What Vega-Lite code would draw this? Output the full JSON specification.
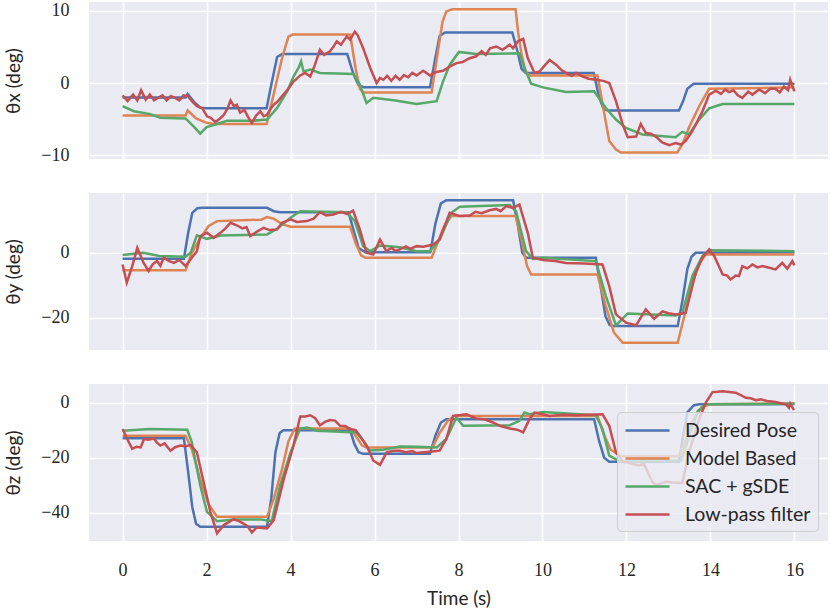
{
"$schema": "https://vega.github.io/schema/vega-lite/v6.json",
"padding": {"left": 4, "top": 1, "right": 2, "bottom": 2},
"datasets": {
"d": [
{"p":1,"s":"Desired Pose","t":0,"v":-2},{"p":1,"s":"Desired Pose","t":1.5,"v":-2},{"p":1,"s":"Desired Pose","t":1.55,"v":-1.5},{"p":1,"s":"Desired Pose","t":1.7,"v":-2.6},{"p":1,"s":"Desired Pose","t":1.85,"v":-3.4},{"p":1,"s":"Desired Pose","t":2.0,"v":-3.5},{"p":1,"s":"Desired Pose","t":3.43,"v":-3.5},{"p":1,"s":"Desired Pose","t":3.55,"v":0},{"p":1,"s":"Desired Pose","t":3.68,"v":3.6},{"p":1,"s":"Desired Pose","t":3.8,"v":4.0},{"p":1,"s":"Desired Pose","t":5.35,"v":4.0},{"p":1,"s":"Desired Pose","t":5.5,"v":1.2},{"p":1,"s":"Desired Pose","t":5.62,"v":-0.3},{"p":1,"s":"Desired Pose","t":5.75,"v":-0.6},{"p":1,"s":"Desired Pose","t":7.32,"v":-0.6},{"p":1,"s":"Desired Pose","t":7.45,"v":3.5},{"p":1,"s":"Desired Pose","t":7.55,"v":6.5},{"p":1,"s":"Desired Pose","t":7.68,"v":7.0},{"p":1,"s":"Desired Pose","t":9.28,"v":7.0},{"p":1,"s":"Desired Pose","t":9.4,"v":4.5},{"p":1,"s":"Desired Pose","t":9.5,"v":2.0},{"p":1,"s":"Desired Pose","t":9.6,"v":1.4},{"p":1,"s":"Desired Pose","t":11.22,"v":1.4},{"p":1,"s":"Desired Pose","t":11.35,"v":-2.0},{"p":1,"s":"Desired Pose","t":11.45,"v":-3.5},{"p":1,"s":"Desired Pose","t":11.55,"v":-3.8},{"p":1,"s":"Desired Pose","t":13.25,"v":-3.8},{"p":1,"s":"Desired Pose","t":13.35,"v":-2.5},{"p":1,"s":"Desired Pose","t":13.45,"v":-0.8},{"p":1,"s":"Desired Pose","t":13.6,"v":-0.1},{"p":1,"s":"Desired Pose","t":16,"v":-0.1},
{"p":1,"s":"Model Based","t":0,"v":-4.5},{"p":1,"s":"Model Based","t":1.5,"v":-4.5},{"p":1,"s":"Model Based","t":1.55,"v":-3.8},{"p":1,"s":"Model Based","t":1.75,"v":-4.9},{"p":1,"s":"Model Based","t":2.0,"v":-5.5},{"p":1,"s":"Model Based","t":2.17,"v":-5.65},{"p":1,"s":"Model Based","t":3.43,"v":-5.65},{"p":1,"s":"Model Based","t":3.6,"v":-1.5},{"p":1,"s":"Model Based","t":3.8,"v":3.5},{"p":1,"s":"Model Based","t":3.95,"v":6.4},{"p":1,"s":"Model Based","t":4.05,"v":6.7},{"p":1,"s":"Model Based","t":5.42,"v":6.7},{"p":1,"s":"Model Based","t":5.55,"v":2.0},{"p":1,"s":"Model Based","t":5.65,"v":-0.8},{"p":1,"s":"Model Based","t":5.73,"v":-1.3},{"p":1,"s":"Model Based","t":7.36,"v":-1.3},{"p":1,"s":"Model Based","t":7.5,"v":4},{"p":1,"s":"Model Based","t":7.62,"v":8.5},{"p":1,"s":"Model Based","t":7.71,"v":9.9},{"p":1,"s":"Model Based","t":7.85,"v":10.2},{"p":1,"s":"Model Based","t":9.36,"v":10.2},{"p":1,"s":"Model Based","t":9.42,"v":7},{"p":1,"s":"Model Based","t":9.5,"v":4},{"p":1,"s":"Model Based","t":9.6,"v":1.5},{"p":1,"s":"Model Based","t":9.69,"v":1.05},{"p":1,"s":"Model Based","t":11.31,"v":1.05},{"p":1,"s":"Model Based","t":11.45,"v":-3.5},{"p":1,"s":"Model Based","t":11.59,"v":-8.0},{"p":1,"s":"Model Based","t":11.75,"v":-9.2},{"p":1,"s":"Model Based","t":11.87,"v":-9.6},{"p":1,"s":"Model Based","t":13.21,"v":-9.6},{"p":1,"s":"Model Based","t":13.33,"v":-8.5},{"p":1,"s":"Model Based","t":13.5,"v":-6},{"p":1,"s":"Model Based","t":13.75,"v":-3},{"p":1,"s":"Model Based","t":13.97,"v":-0.8},{"p":1,"s":"Model Based","t":16,"v":-0.6},
{"p":1,"s":"SAC + gSDE","t":0,"v":-3.2},{"p":1,"s":"SAC + gSDE","t":0.27,"v":-3.9},{"p":1,"s":"SAC + gSDE","t":0.66,"v":-4.3},{"p":1,"s":"SAC + gSDE","t":0.9,"v":-4.8},{"p":1,"s":"SAC + gSDE","t":1.5,"v":-4.9},{"p":1,"s":"SAC + gSDE","t":1.69,"v":-6.0},{"p":1,"s":"SAC + gSDE","t":1.85,"v":-7.0},{"p":1,"s":"SAC + gSDE","t":2.0,"v":-6.1},{"p":1,"s":"SAC + gSDE","t":2.17,"v":-5.8},{"p":1,"s":"SAC + gSDE","t":2.49,"v":-5.2},{"p":1,"s":"SAC + gSDE","t":3.12,"v":-5.2},{"p":1,"s":"SAC + gSDE","t":3.44,"v":-5.05},{"p":1,"s":"SAC + gSDE","t":3.68,"v":-3.45},{"p":1,"s":"SAC + gSDE","t":3.92,"v":-1.15},{"p":1,"s":"SAC + gSDE","t":4.07,"v":0.9},{"p":1,"s":"SAC + gSDE","t":4.2,"v":2.2},{"p":1,"s":"SAC + gSDE","t":4.25,"v":3.0},{"p":1,"s":"SAC + gSDE","t":4.31,"v":1.6},{"p":1,"s":"SAC + gSDE","t":4.47,"v":1.85},{"p":1,"s":"SAC + gSDE","t":4.7,"v":1.4},{"p":1,"s":"SAC + gSDE","t":5.5,"v":1.25},{"p":1,"s":"SAC + gSDE","t":5.65,"v":-0.2},{"p":1,"s":"SAC + gSDE","t":5.81,"v":-2.75},{"p":1,"s":"SAC + gSDE","t":5.97,"v":-2.05},{"p":1,"s":"SAC + gSDE","t":6.5,"v":-2.4},{"p":1,"s":"SAC + gSDE","t":7.0,"v":-2.9},{"p":1,"s":"SAC + gSDE","t":7.48,"v":-2.5},{"p":1,"s":"SAC + gSDE","t":7.63,"v":0.2},{"p":1,"s":"SAC + gSDE","t":7.79,"v":2.5},{"p":1,"s":"SAC + gSDE","t":8.01,"v":4.3},{"p":1,"s":"SAC + gSDE","t":8.42,"v":4.0},{"p":1,"s":"SAC + gSDE","t":9.45,"v":4.1},{"p":1,"s":"SAC + gSDE","t":9.57,"v":2.1},{"p":1,"s":"SAC + gSDE","t":9.73,"v":-0.1},{"p":1,"s":"SAC + gSDE","t":10.01,"v":-0.6},{"p":1,"s":"SAC + gSDE","t":10.56,"v":-1.25},{"p":1,"s":"SAC + gSDE","t":11.23,"v":-1.15},{"p":1,"s":"SAC + gSDE","t":11.51,"v":-3.45},{"p":1,"s":"SAC + gSDE","t":11.75,"v":-5.05},{"p":1,"s":"SAC + gSDE","t":11.99,"v":-6.2},{"p":1,"s":"SAC + gSDE","t":12.38,"v":-7.1},{"p":1,"s":"SAC + gSDE","t":13.17,"v":-7.5},{"p":1,"s":"SAC + gSDE","t":13.33,"v":-6.75},{"p":1,"s":"SAC + gSDE","t":13.49,"v":-7.1},{"p":1,"s":"SAC + gSDE","t":13.73,"v":-5.05},{"p":1,"s":"SAC + gSDE","t":13.97,"v":-3.5},{"p":1,"s":"SAC + gSDE","t":14.29,"v":-2.9},{"p":1,"s":"SAC + gSDE","t":16,"v":-2.9},
{"p":1,"s":"Low-pass filter","t":0,"v":-1.7},{"p":1,"s":"Low-pass filter","t":0.12,"v":-2.5},{"p":1,"s":"Low-pass filter","t":0.25,"v":-1.6},{"p":1,"s":"Low-pass filter","t":0.35,"v":-2.4},{"p":1,"s":"Low-pass filter","t":0.44,"v":-1.0},{"p":1,"s":"Low-pass filter","t":0.55,"v":-2.3},{"p":1,"s":"Low-pass filter","t":0.65,"v":-1.6},{"p":1,"s":"Low-pass filter","t":0.75,"v":-2.4},{"p":1,"s":"Low-pass filter","t":0.83,"v":-2.1},{"p":1,"s":"Low-pass filter","t":0.95,"v":-1.7},{"p":1,"s":"Low-pass filter","t":1.05,"v":-2.4},{"p":1,"s":"Low-pass filter","t":1.15,"v":-1.8},{"p":1,"s":"Low-pass filter","t":1.23,"v":-2.0},{"p":1,"s":"Low-pass filter","t":1.35,"v":-2.4},{"p":1,"s":"Low-pass filter","t":1.45,"v":-1.7},{"p":1,"s":"Low-pass filter","t":1.55,"v":-1.8},{"p":1,"s":"Low-pass filter","t":1.65,"v":-2.5},{"p":1,"s":"Low-pass filter","t":1.77,"v":-3.2},{"p":1,"s":"Low-pass filter","t":1.9,"v":-3.5},{"p":1,"s":"Low-pass filter","t":2.01,"v":-4.6},{"p":1,"s":"Low-pass filter","t":2.1,"v":-4.8},{"p":1,"s":"Low-pass filter","t":2.21,"v":-5.4},{"p":1,"s":"Low-pass filter","t":2.32,"v":-4.9},{"p":1,"s":"Low-pass filter","t":2.41,"v":-4.4},{"p":1,"s":"Low-pass filter","t":2.5,"v":-3.5},{"p":1,"s":"Low-pass filter","t":2.57,"v":-2.4},{"p":1,"s":"Low-pass filter","t":2.65,"v":-3.2},{"p":1,"s":"Low-pass filter","t":2.72,"v":-3.0},{"p":1,"s":"Low-pass filter","t":2.8,"v":-4.1},{"p":1,"s":"Low-pass filter","t":2.9,"v":-3.7},{"p":1,"s":"Low-pass filter","t":3.0,"v":-4.8},{"p":1,"s":"Low-pass filter","t":3.08,"v":-5.5},{"p":1,"s":"Low-pass filter","t":3.18,"v":-4.5},{"p":1,"s":"Low-pass filter","t":3.28,"v":-3.9},{"p":1,"s":"Low-pass filter","t":3.36,"v":-4.6},{"p":1,"s":"Low-pass filter","t":3.44,"v":-4.4},{"p":1,"s":"Low-pass filter","t":3.52,"v":-3.6},{"p":1,"s":"Low-pass filter","t":3.6,"v":-3.0},{"p":1,"s":"Low-pass filter","t":3.7,"v":-2.5},{"p":1,"s":"Low-pass filter","t":3.83,"v":-1.6},{"p":1,"s":"Low-pass filter","t":3.95,"v":-0.8},{"p":1,"s":"Low-pass filter","t":4.07,"v":0.2},{"p":1,"s":"Low-pass filter","t":4.15,"v":0.6},{"p":1,"s":"Low-pass filter","t":4.23,"v":1.05},{"p":1,"s":"Low-pass filter","t":4.35,"v":1.4},{"p":1,"s":"Low-pass filter","t":4.47,"v":0.9},{"p":1,"s":"Low-pass filter","t":4.58,"v":2.5},{"p":1,"s":"Low-pass filter","t":4.7,"v":4.6},{"p":1,"s":"Low-pass filter","t":4.8,"v":3.9},{"p":1,"s":"Low-pass filter","t":4.94,"v":4.4},{"p":1,"s":"Low-pass filter","t":5.02,"v":5.0},{"p":1,"s":"Low-pass filter","t":5.1,"v":5.75},{"p":1,"s":"Low-pass filter","t":5.2,"v":5.3},{"p":1,"s":"Low-pass filter","t":5.34,"v":6.45},{"p":1,"s":"Low-pass filter","t":5.42,"v":6.0},{"p":1,"s":"Low-pass filter","t":5.53,"v":7.1},{"p":1,"s":"Low-pass filter","t":5.6,"v":6.6},{"p":1,"s":"Low-pass filter","t":5.73,"v":4.8},{"p":1,"s":"Low-pass filter","t":5.9,"v":2.05},{"p":1,"s":"Low-pass filter","t":6.05,"v":0},{"p":1,"s":"Low-pass filter","t":6.13,"v":0.7},{"p":1,"s":"Low-pass filter","t":6.21,"v":0.45},{"p":1,"s":"Low-pass filter","t":6.3,"v":1.0},{"p":1,"s":"Low-pass filter","t":6.4,"v":0.3},{"p":1,"s":"Low-pass filter","t":6.5,"v":1.0},{"p":1,"s":"Low-pass filter","t":6.6,"v":0.45},{"p":1,"s":"Low-pass filter","t":6.7,"v":1.1},{"p":1,"s":"Low-pass filter","t":6.8,"v":0.8},{"p":1,"s":"Low-pass filter","t":6.9,"v":1.4},{"p":1,"s":"Low-pass filter","t":7.0,"v":1.05},{"p":1,"s":"Low-pass filter","t":7.16,"v":1.7},{"p":1,"s":"Low-pass filter","t":7.32,"v":1.05},{"p":1,"s":"Low-pass filter","t":7.45,"v":1.5},{"p":1,"s":"Low-pass filter","t":7.63,"v":1.7},{"p":1,"s":"Low-pass filter","t":7.8,"v":2.3},{"p":1,"s":"Low-pass filter","t":7.95,"v":2.75},{"p":1,"s":"Low-pass filter","t":8.1,"v":2.9},{"p":1,"s":"Low-pass filter","t":8.25,"v":3.4},{"p":1,"s":"Low-pass filter","t":8.42,"v":3.7},{"p":1,"s":"Low-pass filter","t":8.55,"v":4.4},{"p":1,"s":"Low-pass filter","t":8.65,"v":3.9},{"p":1,"s":"Low-pass filter","t":8.75,"v":4.8},{"p":1,"s":"Low-pass filter","t":8.9,"v":5.05},{"p":1,"s":"Low-pass filter","t":9.05,"v":4.6},{"p":1,"s":"Low-pass filter","t":9.22,"v":5.3},{"p":1,"s":"Low-pass filter","t":9.3,"v":4.8},{"p":1,"s":"Low-pass filter","t":9.41,"v":5.75},{"p":1,"s":"Low-pass filter","t":9.54,"v":6.1},{"p":1,"s":"Low-pass filter","t":9.65,"v":3.45},{"p":1,"s":"Low-pass filter","t":9.81,"v":1.4},{"p":1,"s":"Low-pass filter","t":9.93,"v":1.6},{"p":1,"s":"Low-pass filter","t":10.05,"v":2.4},{"p":1,"s":"Low-pass filter","t":10.17,"v":3.2},{"p":1,"s":"Low-pass filter","t":10.33,"v":2.5},{"p":1,"s":"Low-pass filter","t":10.45,"v":1.8},{"p":1,"s":"Low-pass filter","t":10.56,"v":1.4},{"p":1,"s":"Low-pass filter","t":10.7,"v":1.0},{"p":1,"s":"Low-pass filter","t":10.8,"v":1.4},{"p":1,"s":"Low-pass filter","t":10.96,"v":0.9},{"p":1,"s":"Low-pass filter","t":11.1,"v":0.6},{"p":1,"s":"Low-pass filter","t":11.27,"v":0.45},{"p":1,"s":"Low-pass filter","t":11.45,"v":0.3},{"p":1,"s":"Low-pass filter","t":11.59,"v":0},{"p":1,"s":"Low-pass filter","t":11.75,"v":-2.5},{"p":1,"s":"Low-pass filter","t":11.91,"v":-5.75},{"p":1,"s":"Low-pass filter","t":12.03,"v":-7.5},{"p":1,"s":"Low-pass filter","t":12.23,"v":-7.4},{"p":1,"s":"Low-pass filter","t":12.34,"v":-5.65},{"p":1,"s":"Low-pass filter","t":12.46,"v":-6.9},{"p":1,"s":"Low-pass filter","t":12.58,"v":-7.0},{"p":1,"s":"Low-pass filter","t":12.7,"v":-7.4},{"p":1,"s":"Low-pass filter","t":12.85,"v":-8.2},{"p":1,"s":"Low-pass filter","t":13.02,"v":-8.6},{"p":1,"s":"Low-pass filter","t":13.17,"v":-8.3},{"p":1,"s":"Low-pass filter","t":13.3,"v":-8.5},{"p":1,"s":"Low-pass filter","t":13.41,"v":-8.0},{"p":1,"s":"Low-pass filter","t":13.55,"v":-6.8},{"p":1,"s":"Low-pass filter","t":13.65,"v":-5.75},{"p":1,"s":"Low-pass filter","t":13.81,"v":-3.9},{"p":1,"s":"Low-pass filter","t":13.97,"v":-1.6},{"p":1,"s":"Low-pass filter","t":14.13,"v":-1.05},{"p":1,"s":"Low-pass filter","t":14.25,"v":-1.5},{"p":1,"s":"Low-pass filter","t":14.35,"v":-0.9},{"p":1,"s":"Low-pass filter","t":14.44,"v":-1.25},{"p":1,"s":"Low-pass filter","t":14.55,"v":-1.0},{"p":1,"s":"Low-pass filter","t":14.65,"v":-1.7},{"p":1,"s":"Low-pass filter","t":14.76,"v":-2.05},{"p":1,"s":"Low-pass filter","t":14.9,"v":-1.2},{"p":1,"s":"Low-pass filter","t":15.0,"v":-1.6},{"p":1,"s":"Low-pass filter","t":15.16,"v":-0.9},{"p":1,"s":"Low-pass filter","t":15.3,"v":-1.4},{"p":1,"s":"Low-pass filter","t":15.42,"v":-0.8},{"p":1,"s":"Low-pass filter","t":15.55,"v":-0.8},{"p":1,"s":"Low-pass filter","t":15.65,"v":-1.3},{"p":1,"s":"Low-pass filter","t":15.75,"v":-0.5},{"p":1,"s":"Low-pass filter","t":15.85,"v":-1.0},{"p":1,"s":"Low-pass filter","t":15.9,"v":0.45},{"p":1,"s":"Low-pass filter","t":15.95,"v":-0.4},{"p":1,"s":"Low-pass filter","t":16,"v":-1.15},

{"p":2,"s":"Desired Pose","t":0,"v":-1.85},{"p":2,"s":"Desired Pose","t":1.46,"v":-1.85},{"p":2,"s":"Desired Pose","t":1.56,"v":6},{"p":2,"s":"Desired Pose","t":1.66,"v":12.3},{"p":2,"s":"Desired Pose","t":1.78,"v":13.7},{"p":2,"s":"Desired Pose","t":1.9,"v":13.85},{"p":2,"s":"Desired Pose","t":3.44,"v":13.85},{"p":2,"s":"Desired Pose","t":3.6,"v":12.8},{"p":2,"s":"Desired Pose","t":3.75,"v":12.5},{"p":2,"s":"Desired Pose","t":5.38,"v":12.5},{"p":2,"s":"Desired Pose","t":5.5,"v":7},{"p":2,"s":"Desired Pose","t":5.62,"v":1.5},{"p":2,"s":"Desired Pose","t":5.78,"v":0.2},{"p":2,"s":"Desired Pose","t":7.33,"v":0.2},{"p":2,"s":"Desired Pose","t":7.45,"v":9},{"p":2,"s":"Desired Pose","t":7.58,"v":15.2},{"p":2,"s":"Desired Pose","t":7.71,"v":16.2},{"p":2,"s":"Desired Pose","t":9.3,"v":16.2},{"p":2,"s":"Desired Pose","t":9.42,"v":8},{"p":2,"s":"Desired Pose","t":9.52,"v":0},{"p":2,"s":"Desired Pose","t":9.61,"v":-1.5},{"p":2,"s":"Desired Pose","t":11.27,"v":-1.5},{"p":2,"s":"Desired Pose","t":11.38,"v":-10},{"p":2,"s":"Desired Pose","t":11.5,"v":-19.5},{"p":2,"s":"Desired Pose","t":11.6,"v":-22.2},{"p":2,"s":"Desired Pose","t":11.67,"v":-22.55},{"p":2,"s":"Desired Pose","t":13.22,"v":-22.55},{"p":2,"s":"Desired Pose","t":13.33,"v":-15},{"p":2,"s":"Desired Pose","t":13.45,"v":-5},{"p":2,"s":"Desired Pose","t":13.55,"v":-1.2},{"p":2,"s":"Desired Pose","t":13.65,"v":0},{"p":2,"s":"Desired Pose","t":16,"v":0.2},
{"p":2,"s":"Model Based","t":0,"v":-5.4},{"p":2,"s":"Model Based","t":1.5,"v":-5.4},{"p":2,"s":"Model Based","t":1.65,"v":0},{"p":2,"s":"Model Based","t":1.85,"v":4.5},{"p":2,"s":"Model Based","t":2.05,"v":8.3},{"p":2,"s":"Model Based","t":2.25,"v":9.75},{"p":2,"s":"Model Based","t":3.3,"v":10.2},{"p":2,"s":"Model Based","t":3.44,"v":11.0},{"p":2,"s":"Model Based","t":3.6,"v":10.5},{"p":2,"s":"Model Based","t":3.8,"v":8.8},{"p":2,"s":"Model Based","t":4.0,"v":8.0},{"p":2,"s":"Model Based","t":5.42,"v":8.0},{"p":2,"s":"Model Based","t":5.55,"v":3},{"p":2,"s":"Model Based","t":5.68,"v":-0.8},{"p":2,"s":"Model Based","t":5.78,"v":-1.5},{"p":2,"s":"Model Based","t":7.36,"v":-1.5},{"p":2,"s":"Model Based","t":7.5,"v":3},{"p":2,"s":"Model Based","t":7.65,"v":8},{"p":2,"s":"Model Based","t":7.83,"v":11.3},{"p":2,"s":"Model Based","t":9.36,"v":11.3},{"p":2,"s":"Model Based","t":9.5,"v":4},{"p":2,"s":"Model Based","t":9.63,"v":-4},{"p":2,"s":"Model Based","t":9.73,"v":-6.65},{"p":2,"s":"Model Based","t":11.31,"v":-6.65},{"p":2,"s":"Model Based","t":11.5,"v":-16},{"p":2,"s":"Model Based","t":11.7,"v":-24.5},{"p":2,"s":"Model Based","t":11.91,"v":-27.7},{"p":2,"s":"Model Based","t":13.22,"v":-27.7},{"p":2,"s":"Model Based","t":13.35,"v":-21},{"p":2,"s":"Model Based","t":13.55,"v":-10},{"p":2,"s":"Model Based","t":13.75,"v":-3},{"p":2,"s":"Model Based","t":13.89,"v":-0.5},{"p":2,"s":"Model Based","t":16,"v":-0.5},
{"p":2,"s":"SAC + gSDE","t":0,"v":-0.7},{"p":2,"s":"SAC + gSDE","t":0.49,"v":0},{"p":2,"s":"SAC + gSDE","t":0.88,"v":-1.0},{"p":2,"s":"SAC + gSDE","t":1.5,"v":-1.2},{"p":2,"s":"SAC + gSDE","t":1.62,"v":0},{"p":2,"s":"SAC + gSDE","t":1.77,"v":5.35},{"p":2,"s":"SAC + gSDE","t":2.01,"v":4.3},{"p":2,"s":"SAC + gSDE","t":2.33,"v":5.35},{"p":2,"s":"SAC + gSDE","t":3.44,"v":5.65},{"p":2,"s":"SAC + gSDE","t":3.68,"v":7.4},{"p":2,"s":"SAC + gSDE","t":4.0,"v":10.8},{"p":2,"s":"SAC + gSDE","t":4.23,"v":12.8},{"p":2,"s":"SAC + gSDE","t":5.34,"v":12.5},{"p":2,"s":"SAC + gSDE","t":5.53,"v":9.75},{"p":2,"s":"SAC + gSDE","t":5.73,"v":2.05},{"p":2,"s":"SAC + gSDE","t":5.9,"v":0.5},{"p":2,"s":"SAC + gSDE","t":6.13,"v":2.25},{"p":2,"s":"SAC + gSDE","t":6.6,"v":1.7},{"p":2,"s":"SAC + gSDE","t":7.0,"v":0.5},{"p":2,"s":"SAC + gSDE","t":7.32,"v":0.5},{"p":2,"s":"SAC + gSDE","t":7.55,"v":4.1},{"p":2,"s":"SAC + gSDE","t":7.83,"v":12.3},{"p":2,"s":"SAC + gSDE","t":8.03,"v":14.15},{"p":2,"s":"SAC + gSDE","t":9.22,"v":14.7},{"p":2,"s":"SAC + gSDE","t":9.37,"v":12.8},{"p":2,"s":"SAC + gSDE","t":9.61,"v":0.5},{"p":2,"s":"SAC + gSDE","t":9.77,"v":-1.85},{"p":2,"s":"SAC + gSDE","t":10.01,"v":-1.5},{"p":2,"s":"SAC + gSDE","t":11.27,"v":-2.55},{"p":2,"s":"SAC + gSDE","t":11.51,"v":-13.3},{"p":2,"s":"SAC + gSDE","t":11.75,"v":-22.35},{"p":2,"s":"SAC + gSDE","t":12.03,"v":-18.65},{"p":2,"s":"SAC + gSDE","t":13.17,"v":-19.3},{"p":2,"s":"SAC + gSDE","t":13.33,"v":-18.6},{"p":2,"s":"SAC + gSDE","t":13.57,"v":-7.15},{"p":2,"s":"SAC + gSDE","t":13.81,"v":-1.0},{"p":2,"s":"SAC + gSDE","t":13.97,"v":0.8},{"p":2,"s":"SAC + gSDE","t":16,"v":0.5},
{"p":2,"s":"Low-pass filter","t":0,"v":-3.6},{"p":2,"s":"Low-pass filter","t":0.1,"v":-9.2},{"p":2,"s":"Low-pass filter","t":0.23,"v":-4.1},{"p":2,"s":"Low-pass filter","t":0.35,"v":1.55},{"p":2,"s":"Low-pass filter","t":0.5,"v":-3.1},{"p":2,"s":"Low-pass filter","t":0.62,"v":-5.6},{"p":2,"s":"Low-pass filter","t":0.72,"v":-3.5},{"p":2,"s":"Low-pass filter","t":0.82,"v":-2.55},{"p":2,"s":"Low-pass filter","t":0.9,"v":-4.0},{"p":2,"s":"Low-pass filter","t":0.98,"v":-1.5},{"p":2,"s":"Low-pass filter","t":1.1,"v":-2.5},{"p":2,"s":"Low-pass filter","t":1.22,"v":-3.1},{"p":2,"s":"Low-pass filter","t":1.35,"v":-2.2},{"p":2,"s":"Low-pass filter","t":1.5,"v":-4.1},{"p":2,"s":"Low-pass filter","t":1.62,"v":-2.0},{"p":2,"s":"Low-pass filter","t":1.77,"v":0.5},{"p":2,"s":"Low-pass filter","t":1.85,"v":5.15},{"p":2,"s":"Low-pass filter","t":2.01,"v":6.15},{"p":2,"s":"Low-pass filter","t":2.17,"v":4.6},{"p":2,"s":"Low-pass filter","t":2.33,"v":6.15},{"p":2,"s":"Low-pass filter","t":2.45,"v":7.5},{"p":2,"s":"Low-pass filter","t":2.57,"v":9.25},{"p":2,"s":"Low-pass filter","t":2.73,"v":8.4},{"p":2,"s":"Low-pass filter","t":2.85,"v":7.5},{"p":2,"s":"Low-pass filter","t":2.95,"v":7.9},{"p":2,"s":"Low-pass filter","t":3.04,"v":5.15},{"p":2,"s":"Low-pass filter","t":3.2,"v":6.5},{"p":2,"s":"Low-pass filter","t":3.36,"v":7.7},{"p":2,"s":"Low-pass filter","t":3.5,"v":7.0},{"p":2,"s":"Low-pass filter","t":3.68,"v":7.2},{"p":2,"s":"Low-pass filter","t":3.8,"v":9.25},{"p":2,"s":"Low-pass filter","t":4.0,"v":10.3},{"p":2,"s":"Low-pass filter","t":4.15,"v":9.5},{"p":2,"s":"Low-pass filter","t":4.39,"v":9.75},{"p":2,"s":"Low-pass filter","t":4.55,"v":10.5},{"p":2,"s":"Low-pass filter","t":4.7,"v":12.5},{"p":2,"s":"Low-pass filter","t":4.85,"v":11.5},{"p":2,"s":"Low-pass filter","t":5.02,"v":11.8},{"p":2,"s":"Low-pass filter","t":5.2,"v":12.6},{"p":2,"s":"Low-pass filter","t":5.35,"v":11.9},{"p":2,"s":"Low-pass filter","t":5.49,"v":13.0},{"p":2,"s":"Low-pass filter","t":5.65,"v":7.2},{"p":2,"s":"Low-pass filter","t":5.81,"v":0},{"p":2,"s":"Low-pass filter","t":5.97,"v":-0.5},{"p":2,"s":"Low-pass filter","t":6.13,"v":4.1},{"p":2,"s":"Low-pass filter","t":6.28,"v":0.5},{"p":2,"s":"Low-pass filter","t":6.4,"v":1.5},{"p":2,"s":"Low-pass filter","t":6.5,"v":0.6},{"p":2,"s":"Low-pass filter","t":6.6,"v":1.05},{"p":2,"s":"Low-pass filter","t":6.75,"v":2.0},{"p":2,"s":"Low-pass filter","t":6.85,"v":1.2},{"p":2,"s":"Low-pass filter","t":7.0,"v":2.05},{"p":2,"s":"Low-pass filter","t":7.16,"v":1.85},{"p":2,"s":"Low-pass filter","t":7.4,"v":2.55},{"p":2,"s":"Low-pass filter","t":7.55,"v":4.1},{"p":2,"s":"Low-pass filter","t":7.79,"v":12.3},{"p":2,"s":"Low-pass filter","t":8.03,"v":11.3},{"p":2,"s":"Low-pass filter","t":8.27,"v":11.5},{"p":2,"s":"Low-pass filter","t":8.4,"v":12.6},{"p":2,"s":"Low-pass filter","t":8.55,"v":12.2},{"p":2,"s":"Low-pass filter","t":8.74,"v":13.1},{"p":2,"s":"Low-pass filter","t":8.9,"v":13.5},{"p":2,"s":"Low-pass filter","t":9.0,"v":12.8},{"p":2,"s":"Low-pass filter","t":9.14,"v":14.35},{"p":2,"s":"Low-pass filter","t":9.3,"v":13.8},{"p":2,"s":"Low-pass filter","t":9.45,"v":14.85},{"p":2,"s":"Low-pass filter","t":9.65,"v":6.15},{"p":2,"s":"Low-pass filter","t":9.77,"v":-1.5},{"p":2,"s":"Low-pass filter","t":10.01,"v":-2.2},{"p":2,"s":"Low-pass filter","t":10.3,"v":-2.5},{"p":2,"s":"Low-pass filter","t":10.56,"v":-3.1},{"p":2,"s":"Low-pass filter","t":11.0,"v":-3.3},{"p":2,"s":"Low-pass filter","t":11.43,"v":-3.6},{"p":2,"s":"Low-pass filter","t":11.59,"v":-10.25},{"p":2,"s":"Low-pass filter","t":11.75,"v":-18.95},{"p":2,"s":"Low-pass filter","t":11.99,"v":-21.5},{"p":2,"s":"Low-pass filter","t":12.23,"v":-22.3},{"p":2,"s":"Low-pass filter","t":12.46,"v":-17.4},{"p":2,"s":"Low-pass filter","t":12.66,"v":-20.3},{"p":2,"s":"Low-pass filter","t":12.86,"v":-18.0},{"p":2,"s":"Low-pass filter","t":13.0,"v":-18.6},{"p":2,"s":"Low-pass filter","t":13.17,"v":-18.95},{"p":2,"s":"Low-pass filter","t":13.41,"v":-18.5},{"p":2,"s":"Low-pass filter","t":13.65,"v":-6.15},{"p":2,"s":"Low-pass filter","t":13.81,"v":-1.5},{"p":2,"s":"Low-pass filter","t":13.97,"v":1.05},{"p":2,"s":"Low-pass filter","t":14.09,"v":-0.95},{"p":2,"s":"Low-pass filter","t":14.29,"v":-6.65},{"p":2,"s":"Low-pass filter","t":14.4,"v":-7.0},{"p":2,"s":"Low-pass filter","t":14.48,"v":-8.2},{"p":2,"s":"Low-pass filter","t":14.6,"v":-7.0},{"p":2,"s":"Low-pass filter","t":14.68,"v":-7.15},{"p":2,"s":"Low-pass filter","t":14.76,"v":-4.1},{"p":2,"s":"Low-pass filter","t":14.88,"v":-4.8},{"p":2,"s":"Low-pass filter","t":15.0,"v":-3.6},{"p":2,"s":"Low-pass filter","t":15.12,"v":-4.5},{"p":2,"s":"Low-pass filter","t":15.24,"v":-4.1},{"p":2,"s":"Low-pass filter","t":15.4,"v":-4.6},{"p":2,"s":"Low-pass filter","t":15.55,"v":-5.1},{"p":2,"s":"Low-pass filter","t":15.71,"v":-3.1},{"p":2,"s":"Low-pass filter","t":15.83,"v":-4.9},{"p":2,"s":"Low-pass filter","t":15.95,"v":-2.55},{"p":2,"s":"Low-pass filter","t":16,"v":-3.85},

{"p":3,"s":"Desired Pose","t":0,"v":-12.9},{"p":3,"s":"Desired Pose","t":1.46,"v":-12.9},{"p":3,"s":"Desired Pose","t":1.56,"v":-25},{"p":3,"s":"Desired Pose","t":1.66,"v":-38},{"p":3,"s":"Desired Pose","t":1.75,"v":-44},{"p":3,"s":"Desired Pose","t":1.85,"v":-45.1},{"p":3,"s":"Desired Pose","t":3.44,"v":-45.1},{"p":3,"s":"Desired Pose","t":3.54,"v":-35},{"p":3,"s":"Desired Pose","t":3.64,"v":-18},{"p":3,"s":"Desired Pose","t":3.74,"v":-11},{"p":3,"s":"Desired Pose","t":3.83,"v":-10.0},{"p":3,"s":"Desired Pose","t":5.42,"v":-10.0},{"p":3,"s":"Desired Pose","t":5.52,"v":-15},{"p":3,"s":"Desired Pose","t":5.62,"v":-18},{"p":3,"s":"Desired Pose","t":5.73,"v":-18.6},{"p":3,"s":"Desired Pose","t":7.32,"v":-18.6},{"p":3,"s":"Desired Pose","t":7.45,"v":-12},{"p":3,"s":"Desired Pose","t":7.58,"v":-7.2},{"p":3,"s":"Desired Pose","t":7.71,"v":-6.0},{"p":3,"s":"Desired Pose","t":11.23,"v":-6.0},{"p":3,"s":"Desired Pose","t":11.35,"v":-14},{"p":3,"s":"Desired Pose","t":11.47,"v":-20},{"p":3,"s":"Desired Pose","t":11.59,"v":-21.5},{"p":3,"s":"Desired Pose","t":13.25,"v":-21.5},{"p":3,"s":"Desired Pose","t":13.35,"v":-12},{"p":3,"s":"Desired Pose","t":13.45,"v":-3.5},{"p":3,"s":"Desired Pose","t":13.6,"v":-1},{"p":3,"s":"Desired Pose","t":13.73,"v":-0.6},{"p":3,"s":"Desired Pose","t":16,"v":-0.5},
{"p":3,"s":"Model Based","t":0,"v":-12.0},{"p":3,"s":"Model Based","t":1.5,"v":-12.0},{"p":3,"s":"Model Based","t":1.65,"v":-17},{"p":3,"s":"Model Based","t":1.85,"v":-28},{"p":3,"s":"Model Based","t":2.05,"v":-37},{"p":3,"s":"Model Based","t":2.25,"v":-41.5},{"p":3,"s":"Model Based","t":3.44,"v":-41.5},{"p":3,"s":"Model Based","t":3.6,"v":-35},{"p":3,"s":"Model Based","t":3.8,"v":-24},{"p":3,"s":"Model Based","t":3.95,"v":-14},{"p":3,"s":"Model Based","t":4.1,"v":-9.4},{"p":3,"s":"Model Based","t":5.42,"v":-9.4},{"p":3,"s":"Model Based","t":5.55,"v":-12},{"p":3,"s":"Model Based","t":5.7,"v":-15.5},{"p":3,"s":"Model Based","t":5.81,"v":-16.25},{"p":3,"s":"Model Based","t":7.38,"v":-16.25},{"p":3,"s":"Model Based","t":7.55,"v":-11},{"p":3,"s":"Model Based","t":7.75,"v":-6.5},{"p":3,"s":"Model Based","t":7.9,"v":-4.8},{"p":3,"s":"Model Based","t":11.31,"v":-4.8},{"p":3,"s":"Model Based","t":11.45,"v":-11},{"p":3,"s":"Model Based","t":11.62,"v":-17},{"p":3,"s":"Model Based","t":11.85,"v":-19.3},{"p":3,"s":"Model Based","t":12.0,"v":-19.5},{"p":3,"s":"Model Based","t":13.25,"v":-19.5},{"p":3,"s":"Model Based","t":13.4,"v":-14},{"p":3,"s":"Model Based","t":13.6,"v":-6},{"p":3,"s":"Model Based","t":13.8,"v":-1.5},{"p":3,"s":"Model Based","t":14.0,"v":-0.6},{"p":3,"s":"Model Based","t":16,"v":-0.3},
{"p":3,"s":"SAC + gSDE","t":0,"v":-10.2},{"p":3,"s":"SAC + gSDE","t":0.66,"v":-9.6},{"p":3,"s":"SAC + gSDE","t":1.54,"v":-9.85},{"p":3,"s":"SAC + gSDE","t":1.65,"v":-14.45},{"p":3,"s":"SAC + gSDE","t":1.85,"v":-30.1},{"p":3,"s":"SAC + gSDE","t":2.01,"v":-39.7},{"p":3,"s":"SAC + gSDE","t":2.25,"v":-43.1},{"p":3,"s":"SAC + gSDE","t":2.65,"v":-42.5},{"p":3,"s":"SAC + gSDE","t":3.3,"v":-42.5},{"p":3,"s":"SAC + gSDE","t":3.55,"v":-43.1},{"p":3,"s":"SAC + gSDE","t":3.75,"v":-30.1},{"p":3,"s":"SAC + gSDE","t":4.0,"v":-18.05},{"p":3,"s":"SAC + gSDE","t":4.23,"v":-9.4},{"p":3,"s":"SAC + gSDE","t":4.39,"v":-9.0},{"p":3,"s":"SAC + gSDE","t":4.63,"v":-10.2},{"p":3,"s":"SAC + gSDE","t":5.57,"v":-10.8},{"p":3,"s":"SAC + gSDE","t":5.73,"v":-13.8},{"p":3,"s":"SAC + gSDE","t":5.89,"v":-17.4},{"p":3,"s":"SAC + gSDE","t":6.21,"v":-17.1},{"p":3,"s":"SAC + gSDE","t":6.6,"v":-15.9},{"p":3,"s":"SAC + gSDE","t":7.0,"v":-16.0},{"p":3,"s":"SAC + gSDE","t":7.48,"v":-16.25},{"p":3,"s":"SAC + gSDE","t":7.71,"v":-13.2},{"p":3,"s":"SAC + gSDE","t":7.95,"v":-5.4},{"p":3,"s":"SAC + gSDE","t":8.11,"v":-8.4},{"p":3,"s":"SAC + gSDE","t":9.22,"v":-8.2},{"p":3,"s":"SAC + gSDE","t":9.45,"v":-6.6},{"p":3,"s":"SAC + gSDE","t":9.57,"v":-3.6},{"p":3,"s":"SAC + gSDE","t":9.69,"v":-4.2},{"p":3,"s":"SAC + gSDE","t":10.01,"v":-3.35},{"p":3,"s":"SAC + gSDE","t":11.27,"v":-4.55},{"p":3,"s":"SAC + gSDE","t":11.43,"v":-9.6},{"p":3,"s":"SAC + gSDE","t":11.59,"v":-19.25},{"p":3,"s":"SAC + gSDE","t":11.85,"v":-21.4},{"p":3,"s":"SAC + gSDE","t":13.3,"v":-21.0},{"p":3,"s":"SAC + gSDE","t":13.5,"v":-12},{"p":3,"s":"SAC + gSDE","t":13.7,"v":-3},{"p":3,"s":"SAC + gSDE","t":13.89,"v":-0.6},{"p":3,"s":"SAC + gSDE","t":16,"v":-0.35},
{"p":3,"s":"Low-pass filter","t":0,"v":-9.6},{"p":3,"s":"Low-pass filter","t":0.11,"v":-13.2},{"p":3,"s":"Low-pass filter","t":0.23,"v":-16.8},{"p":3,"s":"Low-pass filter","t":0.33,"v":-16.0},{"p":3,"s":"Low-pass filter","t":0.43,"v":-16.25},{"p":3,"s":"Low-pass filter","t":0.51,"v":-13.2},{"p":3,"s":"Low-pass filter","t":0.62,"v":-13.5},{"p":3,"s":"Low-pass filter","t":0.74,"v":-13.0},{"p":3,"s":"Low-pass filter","t":0.82,"v":-14.5},{"p":3,"s":"Low-pass filter","t":0.9,"v":-15.6},{"p":3,"s":"Low-pass filter","t":1.0,"v":-14.8},{"p":3,"s":"Low-pass filter","t":1.14,"v":-17.45},{"p":3,"s":"Low-pass filter","t":1.25,"v":-16.2},{"p":3,"s":"Low-pass filter","t":1.38,"v":-15.6},{"p":3,"s":"Low-pass filter","t":1.5,"v":-15.8},{"p":3,"s":"Low-pass filter","t":1.62,"v":-15.4},{"p":3,"s":"Low-pass filter","t":1.77,"v":-18.05},{"p":3,"s":"Low-pass filter","t":1.93,"v":-28.9},{"p":3,"s":"Low-pass filter","t":2.09,"v":-39.7},{"p":3,"s":"Low-pass filter","t":2.25,"v":-47.5},{"p":3,"s":"Low-pass filter","t":2.41,"v":-44.5},{"p":3,"s":"Low-pass filter","t":2.52,"v":-43.5},{"p":3,"s":"Low-pass filter","t":2.64,"v":-42.4},{"p":3,"s":"Low-pass filter","t":2.76,"v":-43.0},{"p":3,"s":"Low-pass filter","t":2.88,"v":-44.0},{"p":3,"s":"Low-pass filter","t":2.98,"v":-45.0},{"p":3,"s":"Low-pass filter","t":3.08,"v":-47.2},{"p":3,"s":"Low-pass filter","t":3.18,"v":-45.5},{"p":3,"s":"Low-pass filter","t":3.28,"v":-45.5},{"p":3,"s":"Low-pass filter","t":3.44,"v":-45.7},{"p":3,"s":"Low-pass filter","t":3.6,"v":-42.7},{"p":3,"s":"Low-pass filter","t":3.84,"v":-27.7},{"p":3,"s":"Low-pass filter","t":4.07,"v":-15.6},{"p":3,"s":"Low-pass filter","t":4.23,"v":-5.05},{"p":3,"s":"Low-pass filter","t":4.35,"v":-5.0},{"p":3,"s":"Low-pass filter","t":4.47,"v":-4.55},{"p":3,"s":"Low-pass filter","t":4.58,"v":-5.5},{"p":3,"s":"Low-pass filter","t":4.7,"v":-8.2},{"p":3,"s":"Low-pass filter","t":4.82,"v":-7.0},{"p":3,"s":"Low-pass filter","t":4.94,"v":-6.3},{"p":3,"s":"Low-pass filter","t":5.06,"v":-6.5},{"p":3,"s":"Low-pass filter","t":5.18,"v":-8.4},{"p":3,"s":"Low-pass filter","t":5.3,"v":-8.5},{"p":3,"s":"Low-pass filter","t":5.42,"v":-9.6},{"p":3,"s":"Low-pass filter","t":5.55,"v":-10.0},{"p":3,"s":"Low-pass filter","t":5.65,"v":-12.0},{"p":3,"s":"Low-pass filter","t":5.81,"v":-15.6},{"p":3,"s":"Low-pass filter","t":5.97,"v":-21.0},{"p":3,"s":"Low-pass filter","t":6.13,"v":-22.6},{"p":3,"s":"Low-pass filter","t":6.29,"v":-18.05},{"p":3,"s":"Low-pass filter","t":6.45,"v":-17.5},{"p":3,"s":"Low-pass filter","t":6.6,"v":-17.45},{"p":3,"s":"Low-pass filter","t":6.75,"v":-18.0},{"p":3,"s":"Low-pass filter","t":6.9,"v":-17.6},{"p":3,"s":"Low-pass filter","t":7.0,"v":-18.3},{"p":3,"s":"Low-pass filter","t":7.16,"v":-18.0},{"p":3,"s":"Low-pass filter","t":7.32,"v":-17.8},{"p":3,"s":"Low-pass filter","t":7.55,"v":-17.45},{"p":3,"s":"Low-pass filter","t":7.71,"v":-13.2},{"p":3,"s":"Low-pass filter","t":7.87,"v":-4.8},{"p":3,"s":"Low-pass filter","t":8.05,"v":-4.5},{"p":3,"s":"Low-pass filter","t":8.19,"v":-4.2},{"p":3,"s":"Low-pass filter","t":8.3,"v":-5.0},{"p":3,"s":"Low-pass filter","t":8.42,"v":-5.75},{"p":3,"s":"Low-pass filter","t":8.6,"v":-6.0},{"p":3,"s":"Low-pass filter","t":8.82,"v":-7.2},{"p":3,"s":"Low-pass filter","t":9.0,"v":-8.5},{"p":3,"s":"Low-pass filter","t":9.22,"v":-9.4},{"p":3,"s":"Low-pass filter","t":9.4,"v":-9.8},{"p":3,"s":"Low-pass filter","t":9.54,"v":-10.8},{"p":3,"s":"Low-pass filter","t":9.69,"v":-6.0},{"p":3,"s":"Low-pass filter","t":9.81,"v":-3.6},{"p":3,"s":"Low-pass filter","t":10.0,"v":-4.2},{"p":3,"s":"Low-pass filter","t":10.17,"v":-4.8},{"p":3,"s":"Low-pass filter","t":10.5,"v":-4.4},{"p":3,"s":"Low-pass filter","t":10.8,"v":-4.55},{"p":3,"s":"Low-pass filter","t":11.1,"v":-4.4},{"p":3,"s":"Low-pass filter","t":11.43,"v":-4.2},{"p":3,"s":"Low-pass filter","t":11.59,"v":-8.4},{"p":3,"s":"Low-pass filter","t":11.75,"v":-18.05},{"p":3,"s":"Low-pass filter","t":11.91,"v":-21.5},{"p":3,"s":"Low-pass filter","t":12.1,"v":-22.0},{"p":3,"s":"Low-pass filter","t":12.3,"v":-22.85},{"p":3,"s":"Low-pass filter","t":12.42,"v":-22.3},{"p":3,"s":"Low-pass filter","t":12.54,"v":-26.5},{"p":3,"s":"Low-pass filter","t":12.62,"v":-28.9},{"p":3,"s":"Low-pass filter","t":12.7,"v":-29.8},{"p":3,"s":"Low-pass filter","t":12.81,"v":-29.5},{"p":3,"s":"Low-pass filter","t":12.95,"v":-28.7},{"p":3,"s":"Low-pass filter","t":13.1,"v":-29.0},{"p":3,"s":"Low-pass filter","t":13.33,"v":-29.2},{"p":3,"s":"Low-pass filter","t":13.49,"v":-18.05},{"p":3,"s":"Low-pass filter","t":13.73,"v":-6.0},{"p":3,"s":"Low-pass filter","t":13.89,"v":0},{"p":3,"s":"Low-pass filter","t":14.05,"v":3.85},{"p":3,"s":"Low-pass filter","t":14.17,"v":4.0},{"p":3,"s":"Low-pass filter","t":14.29,"v":4.2},{"p":3,"s":"Low-pass filter","t":14.45,"v":3.9},{"p":3,"s":"Low-pass filter","t":14.6,"v":3.65},{"p":3,"s":"Low-pass filter","t":14.72,"v":2.8},{"p":3,"s":"Low-pass filter","t":14.84,"v":1.8},{"p":3,"s":"Low-pass filter","t":14.96,"v":1.6},{"p":3,"s":"Low-pass filter","t":15.08,"v":0.9},{"p":3,"s":"Low-pass filter","t":15.2,"v":1.2},{"p":3,"s":"Low-pass filter","t":15.35,"v":0.6},{"p":3,"s":"Low-pass filter","t":15.55,"v":0.25},{"p":3,"s":"Low-pass filter","t":15.7,"v":-0.3},{"p":3,"s":"Low-pass filter","t":15.8,"v":-0.6},{"p":3,"s":"Low-pass filter","t":15.87,"v":-1.8},{"p":3,"s":"Low-pass filter","t":15.9,"v":-0.3},{"p":3,"s":"Low-pass filter","t":15.99,"v":-2.7}
]
},
"data": {"name": "d"},
"spacing": 34,
"bounds": "flush",
"resolve": {"legend": {"color": "independent"}},
"vconcat": [
{
"width": 739, "height": 157,
"transform": [{"filter": "datum.p == 1"}],
"mark": {"type": "line", "strokeWidth": 2.5, "clip": true},
"encoding": {
"x": {"field": "t", "type": "quantitative", "scale": {"domain": [-0.8, 16.8], "nice": false, "zero": false}, "axis": {"values": [0,2,4,6,8,10,12,14,16], "labels": false, "title": null}},
"y": {"field": "v", "type": "quantitative", "scale": {"domain": [-10.5, 11.2], "nice": false, "zero": false}, "axis": {"values": [-10,0,10], "title": "θx (deg)"}},
"color": {"field": "s", "type": "nominal", "scale": {"domain": ["Desired Pose","Model Based","SAC + gSDE","Low-pass filter"], "range": ["#4c72b0","#dd8452","#55a868","#c44e52"]}, "legend": null}
}
},
{
"width": 739, "height": 157,
"transform": [{"filter": "datum.p == 2"}],
"mark": {"type": "line", "strokeWidth": 2.5, "clip": true},
"encoding": {
"x": {"field": "t", "type": "quantitative", "scale": {"domain": [-0.8, 16.8], "nice": false, "zero": false}, "axis": {"values": [0,2,4,6,8,10,12,14,16], "labels": false, "title": null}},
"y": {"field": "v", "type": "quantitative", "scale": {"domain": [-29.9, 18.4], "nice": false, "zero": false}, "axis": {"values": [-20,0], "title": "θy (deg)"}},
"color": {"field": "s", "type": "nominal", "scale": {"domain": ["Desired Pose","Model Based","SAC + gSDE","Low-pass filter"], "range": ["#4c72b0","#dd8452","#55a868","#c44e52"]}, "legend": null}
}
},
{
"width": 739, "height": 157,
"transform": [{"filter": "datum.p == 3"}],
"mark": {"type": "line", "strokeWidth": 2.5, "clip": true},
"encoding": {
"x": {"field": "t", "type": "quantitative", "scale": {"domain": [-0.8, 16.8], "nice": false, "zero": false}, "axis": {"values": [0,2,4,6,8,10,12,14,16], "title": "Time (s)", "titlePadding": 10}},
"y": {"field": "v", "type": "quantitative", "scale": {"domain": [-50.3, 6.8], "nice": false, "zero": false}, "axis": {"values": [-40,-20,0], "title": "θz (deg)"}},
"color": {"field": "s", "type": "nominal", "scale": {"domain": ["Desired Pose","Model Based","SAC + gSDE","Low-pass filter"], "range": ["#4c72b0","#dd8452","#55a868","#c44e52"]},
"legend": {"orient": "bottom-right", "offset": 10, "title": null}}
}
}
],
"config": {
"view": {"fill": "#eaeaf2", "stroke": null},
"axis": {"grid": true, "gridColor": "#ffffff", "gridWidth": 1.6, "domain": false, "ticks": false, "labelFont": "Liberation Serif", "labelFontSize": 18, "labelColor": "#262626", "labelPadding": 20, "titleFont": "Lato", "titleFontSize": 19, "titleFontWeight": "normal", "titleColor": "#262626"},
"axisY": {"minExtent": 50, "maxExtent": 50, "titlePadding": 16},
"legend": {"symbolType": "M-1,0H3.4", "symbolSize": 400, "symbolStrokeWidth": 2.5, "symbolFillColor": "transparent", "labelFont": "Lato", "labelFontSize": 19.5, "labelColor": "#262626", "labelOffset": 38, "rowPadding": 7, "padding": 7, "fillColor": "rgba(234,234,242,0.8)", "strokeColor": "#cccccc", "cornerRadius": 4}
}
}
